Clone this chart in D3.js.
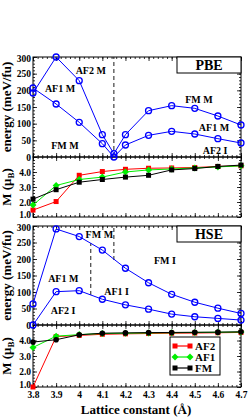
<!DOCTYPE html>
<html lang="en">
<head>
<meta charset="utf-8" />
<title>Energy and moment vs lattice constant</title>
<script src="https://d3js.org/d3.v7.min.js"></script>
<style>
  body { margin: 0; background: #fff; }
  svg text { font-family: "Liberation Serif", "DejaVu Serif", serif; font-weight: bold; }
</style>
</head>
<body>
<div id="chart"></div>
<script>
// ---- data ----
const lattice = [3.8, 3.9, 4.0, 4.1, 4.2, 4.3, 4.4, 4.5, 4.6, 4.7];
const latticePBE = [3.8, 3.9, 4.0, 4.1, 4.15, 4.2, 4.3, 4.4, 4.5, 4.6, 4.7];

// energies (meV/fu)
const pbeUpper = [192, 300, 229, 67, 10, 67, 139, 154, 146, 123, 96];
const pbeLower = [207, 159, 104, 40, 0, 36, 65, 77, 69, 55, 42];
const hseUpper = [64, 291, 268, 227, 172, 128, 93, 69, 51, 35];
const hseLower = [0, 101, 104, 78, 61, 48, 33, 25, 20, 15];

// moments (mu_B)
const pbeAF2 = [1.46, 2.03, 3.78, 4.03, 4.18, 4.25, 4.27, 4.30, 4.37, 4.41];
const pbeAF1 = [1.80, 3.10, 3.50, 3.66, 4.00, 4.14, 4.20, 4.27, 4.34, 4.41];
const pbeFM  = [2.19, 2.82, 3.32, 3.50, 3.66, 3.78, 4.14, 4.23, 4.37, 4.46];
const hseAF2 = [1.00, 4.25, 4.33, 4.40, 4.43, 4.45, 4.47, 4.48, 4.50, 4.52];
const hseAF1 = [3.55, 4.28, 4.38, 4.45, 4.47, 4.49, 4.50, 4.52, 4.53, 4.55];
const hseFM  = [3.90, 4.05, 4.37, 4.47, 4.49, 4.51, 4.52, 4.53, 4.54, 4.56];

const xTickValues = [3.8, 3.9, 4.0, 4.1, 4.2, 4.3, 4.4, 4.5, 4.6, 4.7];
const energyTicks = [0, 50, 100, 150, 200, 250, 300];
const momentTicks = [1, 2, 3, 4];

// phase boundary markers and region labels
const pbeBoundaries = [{ x: 4.15, from: 0, to: 300 }];
const hseBoundaries = [{ x: 4.05, from: 91, to: 248 }, { x: 4.15, from: 197, to: 300 }];
const pbeLabels = [
  { x: 4.05, e: 259, t: "AF2 M" }, { x: 3.917, e: 207, t: "AF1 M" },
  { x: 3.938, e: 36, t: "FM M" }, { x: 4.518, e: 173, t: "FM M" },
  { x: 4.583, e: 88, t: "AF1 M" }, { x: 4.588, e: 21, t: "AF2 I" }
];
const hseLabels = [
  { x: 4.087, e: 273, t: "FM M" }, { x: 4.371, e: 194, t: "FM I" },
  { x: 3.931, e: 141, t: "AF1 M" }, { x: 4.162, e: 103, t: "AF1 I" },
  { x: 3.93, e: 45, t: "AF2 I" }
];

// ---- layout ----
const W = 249, H = 417;
const svg = d3.select("#chart").append("svg").attr("width", W).attr("height", H);
const x = d3.scaleLinear().domain([3.8, 4.7]).range([33, 241]);

const panels = [
  { top: 57, bottom: 157, domain: [0, 300], type: "e" },
  { top: 157, bottom: 217, domain: [1, 5], type: "m" },
  { top: 226, bottom: 325, domain: [0, 300], type: "e" },
  { top: 325, bottom: 387, domain: [1, 5], type: "m" }
];
panels.forEach(p => { p.y = d3.scaleLinear().domain(p.domain).range([p.bottom, p.top]); });

function drawFrame(p, showX) {
  const g = svg.append("g");
  const majorY = p.type === "e" ? energyTicks : momentTicks;
  const minorY = p.type === "e" ? d3.range(0, 301, 10) : d3.range(1, 5.01, 0.2);
  const minorX = d3.range(3.8, 4.7001, 0.02);

  // minor ticks
  g.append("g").attr("transform", `translate(0,${p.bottom})`)
    .call(d3.axisBottom(x).tickValues(minorX).tickSize(-2).tickFormat(""));
  g.append("g").attr("transform", `translate(0,${p.top})`)
    .call(d3.axisTop(x).tickValues(minorX).tickSize(-2).tickFormat(""));
  g.append("g").attr("transform", `translate(${x.range()[0]},0)`)
    .call(d3.axisLeft(p.y).tickValues(minorY).tickSize(-2).tickFormat(""));
  g.append("g").attr("transform", `translate(${x.range()[1]},0)`)
    .call(d3.axisRight(p.y).tickValues(minorY).tickSize(-2).tickFormat(""));

  // major ticks
  g.append("g").attr("class", "xb").attr("transform", `translate(0,${p.bottom})`)
    .call(d3.axisBottom(x).tickValues(xTickValues).tickSize(-4).tickPadding(4)
      .tickFormat(showX ? (d => String(+d.toFixed(1))) : ""));
  g.append("g").attr("transform", `translate(0,${p.top})`)
    .call(d3.axisTop(x).tickValues(xTickValues).tickSize(-4).tickFormat(""));
  const yl = g.append("g").attr("class", "yl").attr("transform", `translate(${x.range()[0]},0)`)
    .call(d3.axisLeft(p.y).tickValues(majorY).tickSize(-4).tickPadding(2));
  g.append("g").attr("transform", `translate(${x.range()[1]},0)`)
    .call(d3.axisRight(p.y).tickValues(majorY).tickSize(-4).tickFormat(""));

  g.selectAll(".domain").remove();
  g.selectAll(".tick line").attr("stroke", "#000").attr("stroke-width", 0.8);
  g.selectAll("text").attr("font-family", null).attr("font-size", 9.5).attr("fill", "#000");
  g.selectAll(".xb text").attr("dy", "0.7em");
  // keep corner labels clear of neighbours
  yl.selectAll(".tick text").filter(d => d === 1).attr("dy", "0.05em");
  yl.selectAll(".tick text").filter(d => d === 300).attr("dy", "0.5em");

  svg.append("rect").attr("x", x.range()[0]).attr("y", p.top)
    .attr("width", x.range()[1] - x.range()[0]).attr("height", p.bottom - p.top)
    .attr("fill", "none").attr("stroke", "#000").attr("stroke-width", 1);
}

panels.forEach((p, i) => drawFrame(p, i === 3));

// ---- energy panels ----
function energyPanel(p, xs, series, bounds, labels, tag) {
  const line = d3.line().x((d, i) => x(xs[i])).y(d => p.y(d));
  bounds.forEach(b => {
    svg.append("line").attr("x1", x(b.x)).attr("x2", x(b.x))
      .attr("y1", p.y(b.from)).attr("y2", p.y(b.to))
      .attr("stroke", "#000").attr("stroke-width", 0.9).attr("stroke-dasharray", "4,3");
  });
  series.forEach(s => {
    svg.append("path").datum(s).attr("d", line)
      .attr("fill", "none").attr("stroke", "#0000ff").attr("stroke-width", 1);
    svg.append("g").selectAll("circle").data(s).join("circle")
      .attr("cx", (d, i) => x(xs[i])).attr("cy", d => p.y(d)).attr("r", 3)
      .attr("fill", "none").attr("stroke", "#0000ff").attr("stroke-width", 1.3);
  });
  labels.forEach(l => {
    svg.append("text").attr("x", x(l.x)).attr("y", p.y(l.e)).attr("dy", "0.35em")
      .attr("text-anchor", "middle").attr("font-size", 10).text(l.t);
  });
  svg.append("rect").attr("x", 177).attr("y", p.top).attr("width", 64).attr("height", 16)
    .attr("fill", "#fff").attr("stroke", "#000").attr("stroke-width", 1);
  svg.append("text").attr("x", 209).attr("y", p.top + 13).attr("text-anchor", "middle")
    .attr("font-size", 14).text(tag);
}
energyPanel(panels[0], latticePBE, [pbeUpper, pbeLower], pbeBoundaries, pbeLabels, "PBE");
energyPanel(panels[2], lattice, [hseUpper, hseLower], hseBoundaries, hseLabels, "HSE");

// ---- moment panels ----
const momentStyle = [
  { name: "AF2", color: "#ff0000", shape: "square" },
  { name: "AF1", color: "#00ee00", shape: "diamond" },
  { name: "FM", color: "#000000", shape: "square" }
];
function marker(sel, shape, color, cx, cy, s) {
  if (shape === "square") {
    sel.append("rect").attr("x", cx - s / 2).attr("y", cy - s / 2).attr("width", s).attr("height", s).attr("fill", color);
  } else if (shape === "diamond") {
    const r = s * 0.7;
    sel.append("path").attr("d", `M${cx},${cy - r}L${cx + r},${cy}L${cx},${cy + r}L${cx - r},${cy}Z`).attr("fill", color);
  } else {
    sel.append("circle").attr("cx", cx).attr("cy", cy).attr("r", s / 2 + 0.3).attr("fill", color);
  }
}
function momentPanel(p, series, lastShape) {
  const line = d3.line().x((d, i) => x(lattice[i])).y(d => p.y(d));
  series.forEach((s, k) => {
    const st = momentStyle[k];
    const shape = k === 2 ? lastShape : st.shape;
    svg.append("path").datum(s).attr("d", line)
      .attr("fill", "none").attr("stroke", st.color).attr("stroke-width", 1);
    const g = svg.append("g");
    s.forEach((d, i) => marker(g, shape, st.color, x(lattice[i]), p.y(d), 5));
  });
}
momentPanel(panels[1], [pbeAF2, pbeAF1, pbeFM], "square");
momentPanel(panels[3], [hseAF2, hseAF1, hseFM], "circle");

// legend
const lg = svg.append("g");
lg.append("rect").attr("x", 170).attr("y", 337).attr("width", 50).attr("height", 38)
  .attr("fill", "#fff").attr("stroke", "#000").attr("stroke-width", 1);
momentStyle.forEach((st, k) => {
  const yy = 346 + k * 11;
  lg.append("line").attr("x1", 175).attr("x2", 190).attr("y1", yy).attr("y2", yy)
    .attr("stroke", st.color).attr("stroke-width", 1.2);
  marker(lg, st.shape, st.color, 175, yy, 5);
  marker(lg, st.shape, st.color, 190, yy, 5);
  lg.append("text").attr("x", 195).attr("y", yy).attr("dy", "0.35em")
    .attr("font-size", 11).text(st.name);
});

// axis titles
svg.append("text").attr("x", 136).attr("y", 414).attr("text-anchor", "middle")
  .attr("font-size", 13).text("Lattice constant (Å)");
function yTitle(p, build) {
  const t = svg.append("text").attr("text-anchor", "middle").attr("font-size", 13)
    .attr("transform", `translate(11,${(p.top + p.bottom) / 2}) rotate(-90)`);
  build(t);
}
[panels[0], panels[2]].forEach(p => yTitle(p, t => t.text("energy (meV/fu)")));
[panels[1], panels[3]].forEach(p => yTitle(p, t => {
  t.append("tspan").text("M (μ");
  t.append("tspan").attr("font-size", 9).attr("dy", 3).text("B");
  t.append("tspan").attr("dy", -3).text(")");
}));
</script>
</body>
</html>
